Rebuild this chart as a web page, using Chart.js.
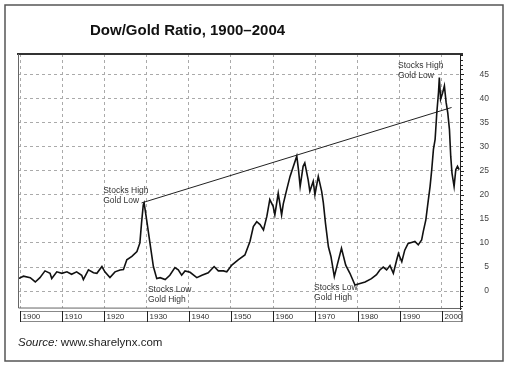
<!DOCTYPE html>
<html>

<head>
  <title>Dow/Gold Ratio</title>
  <script src="https://cdn.jsdelivr.net/npm/chart.js"></script>
  <style>
    body {
      margin: 0;
      background: #fff;
    }

    #chart {
      display: block;
    }
  </style>
</head>

<body>
  <canvas id="chart" width="511" height="369"></canvas>
  <script>
    // values (year, Dow/Gold ratio)
    const years = [
      1899.6, 1900.8, 1902.4, 1903.6, 1904.7, 1905.9, 1907.1, 1907.5, 1908.7, 1909.9,
      1911.1, 1912.2, 1913.4, 1914.6, 1915.0, 1916.2, 1917.4, 1918.2, 1919.4, 1920.1,
      1921.3, 1922.5, 1923.7, 1924.5, 1925.3, 1926.5, 1927.7, 1928.4, 1928.8, 1929.2,
      1929.4, 1930.0, 1930.8, 1931.6, 1932.4, 1933.2, 1934.4, 1935.5, 1936.7, 1937.5,
      1938.3, 1939.1, 1940.3, 1941.9, 1943.1, 1944.6, 1946.0, 1947.0, 1948.2, 1949.0,
      1950.2, 1951.7, 1953.3, 1954.5, 1955.3, 1956.1, 1956.9, 1957.7, 1958.5, 1959.2,
      1960.0, 1960.4, 1961.2, 1962.0, 1962.4, 1963.2, 1964.0, 1964.8, 1965.6, 1966.0,
      1966.4, 1967.1, 1967.5, 1968.3, 1968.7, 1969.5, 1969.9, 1970.7, 1971.5, 1971.9,
      1972.4, 1973.1, 1973.7, 1974.5, 1975.3, 1976.2, 1977.2, 1978.2, 1979.4, 1980.2,
      1981.8, 1983.3, 1984.5, 1985.3, 1986.1, 1986.9, 1987.7, 1988.5, 1989.3, 1989.7,
      1990.5, 1991.2, 1992.0, 1992.8, 1993.6, 1994.4, 1995.2, 1995.6, 1996.2, 1996.8,
      1997.2, 1997.6, 1998.0, 1998.4, 1998.8, 1999.2, 1999.4, 1999.7, 2000.2, 2000.6,
      2001.0, 2001.4, 2001.8, 2002.1, 2002.4, 2002.9, 2003.3, 2003.7, 2004.1
    ];
    const ratio = [
      2.6, 3.1, 2.8, 1.9, 2.8, 4.2, 3.7, 2.6, 4.0, 3.7,
      4.0, 3.5, 4.0, 3.3, 2.4, 4.4, 3.8, 3.7, 5.1, 4.0,
      2.8, 4.0, 4.4, 4.5, 6.5, 7.2, 8.2, 10.0, 14.2, 17.9,
      18.3, 14.8, 9.9, 5.1, 2.6, 2.8, 2.4, 3.3, 4.9, 4.4,
      3.3, 4.2, 3.9, 2.8, 3.3, 3.8, 5.1, 4.2, 4.2, 4.0,
      5.4, 6.5, 7.5, 10.3, 13.4, 14.4, 13.8, 12.7, 15.5, 19.0,
      17.6, 15.8, 20.3, 15.8, 18.1, 21.0, 23.8, 25.9, 28.0, 25.2,
      21.7, 25.9, 26.6, 23.1, 20.7, 22.8, 20.0, 23.8, 20.7, 18.3,
      14.1, 9.2, 7.2, 3.0, 5.8, 8.9, 5.4, 3.7, 1.25, 1.5,
      1.9, 2.6, 3.4, 4.4, 5.0, 4.4, 5.3, 3.7, 6.5, 7.8,
      6.1, 8.5, 9.9, 10.1, 10.3, 9.6, 10.6, 12.4, 14.8, 19.0,
      21.7, 25.2, 29.4, 31.5, 37.0, 41.2, 44.3, 39.8, 41.2, 42.6,
      39.2, 37.0, 33.5, 28.0, 24.5, 21.7, 25.2, 25.9, 25.2
    ];

    // hand-drawn trend line from the 1929 top to the 2000 top
    const trendYears = [1928.8, 2002.3];
    const trendValues = [18.3, 38.1];

    const yTicks = [0, 5, 10, 15, 20, 25, 30, 35, 40, 45];
    const xTicks = [1900, 1910, 1920, 1930, 1940, 1950, 1960, 1970, 1980, 1990, 2000];

    const notes = [
      { lines: ['Stocks High', 'Gold Low'], year: 1919.7, value: 20.8 },
      { lines: ['Stocks Low', 'Gold High'], year: 1930.3, value: 0.4 },
      { lines: ['Stocks Low', 'Gold High'], year: 1969.7, value: 0.8 },
      { lines: ['Stocks High', 'Gold Low'], year: 1989.6, value: 46.7 }
    ];

    const FONT = '"Liberation Sans", Arial, sans-serif';

    const decorations = {
      id: 'decorations',
      beforeDraw(chart) {
        const ctx = chart.ctx;
        ctx.save();
        ctx.fillStyle = '#fff';
        ctx.fillRect(0, 0, chart.width, chart.height);
        ctx.restore();
      },
      afterDraw(chart) {
        const ctx = chart.ctx;
        const area = chart.chartArea;
        const xs = chart.scales.x;
        const ys = chart.scales.y;
        ctx.save();

        // outer frame
        ctx.strokeStyle = '#555';
        ctx.lineWidth = 1.5;
        ctx.strokeRect(5, 5, 498, 356);

        // title
        ctx.fillStyle = '#111';
        ctx.font = 'bold 15px ' + FONT;
        ctx.textBaseline = 'alphabetic';
        ctx.textAlign = 'left';
        ctx.fillText('Dow/Gold Ratio, 1900\u20132004', 90, 35);

        // source line
        ctx.fillStyle = '#222';
        ctx.font = 'italic 11.5px ' + FONT;
        ctx.fillText('Source:', 18, 346);
        const w = ctx.measureText('Source: ').width;
        ctx.font = '11.5px ' + FONT;
        ctx.fillText('www.sharelynx.com', 18 + w, 346);

        // top rule
        ctx.strokeStyle = '#333';
        ctx.lineWidth = 2;
        ctx.beginPath();
        ctx.moveTo(area.left - 1, area.top);
        ctx.lineTo(area.right + 3, area.top);
        ctx.stroke();

        // left and bottom edges
        ctx.lineWidth = 1;
        ctx.strokeStyle = '#666';
        ctx.beginPath();
        ctx.moveTo(area.left + 0.5, area.top);
        ctx.lineTo(area.left + 0.5, area.bottom);
        ctx.lineTo(area.right + 2, area.bottom + 0.5);
        ctx.stroke();

        // right axis with minor ticks
        ctx.strokeStyle = '#222';
        ctx.beginPath();
        ctx.moveTo(area.right + 0.5, area.top);
        ctx.lineTo(area.right + 0.5, area.bottom + 2);
        for (let v = -3; v <= 49; v++) {
          const py = Math.round(ys.getPixelForValue(v)) + 0.5;
          ctx.moveTo(area.right, py);
          ctx.lineTo(area.right + (v % 5 === 0 ? 4 : 3), py);
        }
        ctx.stroke();

        // boxed decade labels under the plot
        const boxTop = area.bottom + 3;
        const boxBottom = area.bottom + 13;
        ctx.font = '8px ' + FONT;
        ctx.textBaseline = 'middle';
        ctx.fillStyle = '#333';
        xTicks.forEach((yr, i) => {
          const x0 = Math.round(xs.getPixelForValue(yr)) + 0.5;
          const x1 = i < xTicks.length - 1 ? Math.round(xs.getPixelForValue(xTicks[i + 1])) + 0.5 : area.right + 2;
          ctx.strokeStyle = '#888';
          ctx.beginPath();
          ctx.moveTo(x0, boxTop + 0.5);
          ctx.lineTo(x1, boxTop + 0.5);
          ctx.moveTo(x0, boxBottom + 0.5);
          ctx.lineTo(x1, boxBottom + 0.5);
          ctx.stroke();
          ctx.strokeStyle = '#222';
          ctx.beginPath();
          ctx.moveTo(x0, boxTop);
          ctx.lineTo(x0, boxBottom + 1);
          ctx.moveTo(x1, boxTop);
          ctx.lineTo(x1, boxBottom + 1);
          ctx.stroke();
          ctx.fillText(String(yr), x0 + 2, (boxTop + boxBottom) / 2 + 1);
        });

        // annotations
        ctx.font = '8.5px ' + FONT;
        ctx.fillStyle = '#333';
        ctx.textBaseline = 'middle';
        notes.forEach(n => {
          const px = xs.getPixelForValue(n.year);
          const py = ys.getPixelForValue(n.value);
          n.lines.forEach((t, k) => ctx.fillText(t, px, py + k * 10));
        });

        ctx.restore();
      }
    };

    new Chart(document.getElementById('chart'), {
      type: 'line',
      data: {
        datasets: [{
          label: 'Dow/Gold',
          data: years.map((yr, i) => ({ x: yr, y: ratio[i] })),
          borderColor: '#111',
          borderWidth: 1.6,
          pointRadius: 0,
          tension: 0
        }, {
          label: 'Trend',
          data: trendYears.map((yr, i) => ({ x: yr, y: trendValues[i] })),
          borderColor: '#222',
          borderWidth: 1,
          pointRadius: 0
        }]
      },
      options: {
        responsive: false,
        devicePixelRatio: 1,
        animation: false,
        layout: {
          padding: { left: 18, top: 54, right: 22, bottom: 0 }
        },
        plugins: {
          legend: { display: false },
          tooltip: { enabled: false }
        },
        scales: {
          x: {
            type: 'linear',
            min: 1899.5,
            max: 2004.3,
            afterBuildTicks: scale => {
              scale.ticks = xTicks.map(v => ({ value: v }));
            },
            afterFit: scale => {
              scale.height = 61;
            },
            ticks: { display: false },
            grid: { color: '#aaa', lineWidth: 1, drawTicks: false },
            border: { display: false, dash: [3, 3] }
          },
          y: {
            type: 'linear',
            position: 'right',
            min: -3.5,
            max: 49.2,
            afterBuildTicks: scale => {
              scale.ticks = yTicks.map(v => ({ value: v }));
            },
            afterFit: scale => {
              scale.width = 29;
            },
            ticks: {
              crossAlign: 'far',
              color: '#444',
              font: { family: FONT, size: 8.5 }
            },
            grid: { color: '#aaa', lineWidth: 1, drawTicks: false },
            border: { display: false, dash: [3, 3] }
          }
        }
      },
      plugins: [decorations]
    });
  </script>
</body>

</html>
